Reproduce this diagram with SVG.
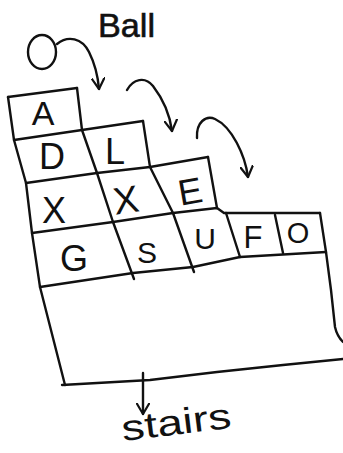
<svg xmlns="http://www.w3.org/2000/svg" width="343" height="453" viewBox="0 0 343 453">
<style>
.ln{fill:none;stroke:#111;stroke-width:2.4;stroke-linecap:round;stroke-linejoin:round}
.cn{fill:none;stroke:#111;stroke-width:2.4;stroke-linecap:round}
.t{font-family:"Liberation Sans","DejaVu Sans",sans-serif;fill:#111;text-anchor:middle}
.lbl{font-family:"Liberation Sans","DejaVu Sans",sans-serif;fill:#111}
</style>
<defs>
<marker id="v" viewBox="0 0 12 14" refX="11" refY="7" markerWidth="12" markerHeight="14" markerUnits="userSpaceOnUse" orient="auto">
<path d="M0,0.5 L11,7 L0,13.5" fill="none" stroke="#111" stroke-width="2.2" stroke-linecap="round" stroke-linejoin="round"/>
</marker>
</defs>
<rect width="343" height="453" fill="#fff"/>
<g id="ball">
<ellipse cx="42" cy="52" rx="14" ry="17" class="ln"/>
<text class="lbl" x="98" y="37" font-size="33" textLength="57" lengthAdjust="spacingAndGlyphs" stroke="#111" stroke-width="0.6">Ball</text>
</g>
<g id="grid" class="ln">
<path d="M8,97 L77,88"/>
<path d="M14,140 L82,130 L143,121"/>
<path d="M26,183 L97,173 L150,167 L208,157"/>
<path d="M32,233 L113,222 L173,213 L217,208 L224,213 L320,213"/>
<path d="M40,287 L133,273 L193,267 L240,257 L326,252"/>
<path d="M62,385 L150,380 L217,372 L283,365 L343,359"/>
<path d="M8,97 L14,140 L26,183 L32,233 L40,287 L65,385"/>
<path d="M77,88 L82,130 L97,173 L113,222 L134,279"/>
<path d="M143,121 L150,167 L173,213 L194,272"/>
<path d="M208,157 L217,208"/>
<path d="M226,213 L240,257"/>
<path d="M275,215 L283,253"/>
<path d="M320,213 L326,252 L331,290 L335,327 Q337,336 343,342"/>
</g>
<g id="cell-A"><text class="t" x="43" y="125" font-size="34">A</text></g>
<g id="cell-D"><text class="t" x="52" y="169" font-size="36">D</text></g>
<g id="cell-L"><text class="t" x="115" y="164" font-size="36">L</text></g>
<g id="cell-X1"><text class="t" x="54" y="223" font-size="36">X</text></g>
<g id="cell-X2"><text class="t" x="126" y="213" font-size="38" transform="rotate(-8 126 200)">X</text></g>
<g id="cell-E"><text class="t" x="190" y="204" font-size="36" transform="rotate(-10 190 190)">E</text></g>
<g id="cell-G"><text class="t" x="74" y="271" font-size="36">G</text></g>
<g id="cell-S"><text class="t" x="147" y="263" font-size="30">S</text></g>
<g id="cell-U"><text class="t" x="205" y="249" font-size="30">U</text></g>
<g id="cell-F"><text class="t" x="253" y="248" font-size="31">F</text></g>
<g id="cell-O"><text class="t" x="298" y="243" font-size="29">O</text></g>
<g id="stairs-label"><text class="lbl" x="123" y="441" font-size="36" textLength="110" lengthAdjust="spacingAndGlyphs" transform="rotate(-7 123 440)">stairs</text></g>
<g id="connectors">
<path class="cn" d="M57,44 C68,35 82,38 89,52 C95,64 98,77 99,89" marker-end="url(#v)"/>
<path class="cn" d="M127,90 C133,79 145,76 153,86 C163,99 170,116 172,131" marker-end="url(#v)"/>
<path class="cn" d="M197,138 C196,122 206,115 215,119 C232,127 245,155 248,177" marker-end="url(#v)"/>
<path class="cn" d="M143,373 L143,414" marker-end="url(#v)"/>
</g>
</svg>
